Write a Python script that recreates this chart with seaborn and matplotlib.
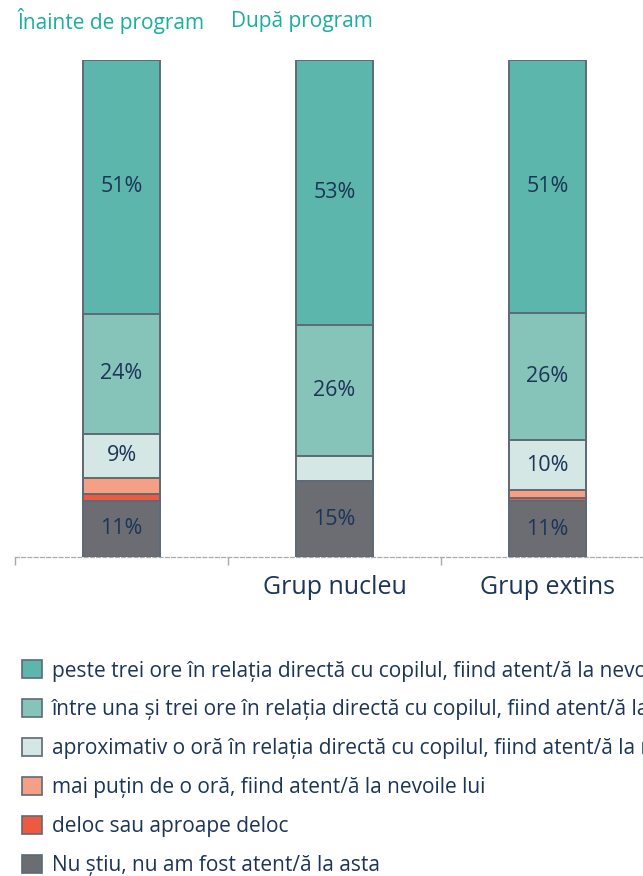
import matplotlib
matplotlib.use("Agg")
import matplotlib.pyplot as plt
import matplotlib.patches as mpatches
import numpy as np
import pandas as pd
import seaborn as sns

# Data: share of respondents per answer, bottom segment first
groups = ["Înainte de program", "Grup nucleu", "Grup extins"]
tick_labels = ["", "Grup nucleu", "Grup extins"]
answers = [
    "Nu știu, nu am fost atent/ă la asta",
    "deloc sau aproape deloc",
    "mai puțin de o oră, fiind atent/ă la nevoile lui",
    "aproximativ o oră în relația directă cu copilul, fiind atent/ă la nevoile lui",
    "între una și trei ore în relația directă cu copilul, fiind atent/ă la nevoile lui",
    "peste trei ore în relația directă cu copilul, fiind atent/ă la nevoile lui",
]
nu_stiu = [11.3, 15.2, 11.2]
deloc = [1.4, 0.0, 0.6]
sub_o_ora = [3.2, 0.0, 1.6]
o_ora = [8.9, 5.2, 10.1]
una_trei = [24.1, 26.3, 25.6]
peste_trei = [51.1, 53.3, 50.9]
colors = ["#6b6d72", "#ee5a40", "#f5a084", "#d4e7e4", "#86c4ba", "#5cb6ab"]
headers = ["Înainte de program", "După program"]

series = [nu_stiu, deloc, sub_o_ora, o_ora, una_trei, peste_trei]

sns.set_theme(style="white")
plt.rcParams["font.family"] = ["Open Sans", "DejaVu Sans"]

navy = "#1c3557"
teal = "#1aae9f"
edge = "#5e6a77"

fig = plt.figure(figsize=(6.43, 8.76), dpi=100)
left = 15 / 643
bottom = (876 - 557) / 876
top = (876 - 60) / 876
ax = fig.add_axes([left, bottom, (654 - 15) / 643, top - bottom])

vals = np.array(series)
cum = np.cumsum(vals, axis=0)

# Overlapping cumulative bars, tallest first, form the stacks
for i in range(len(series) - 1, -1, -1):
    df = pd.DataFrame({"grup": groups, "val": cum[i]})
    sns.barplot(data=df, x="grup", y="val", order=groups, color=colors[i],
                saturation=1, width=0.366, edgecolor=edge, linewidth=1.4,
                ax=ax, zorder=2)

# Segment labels
for j in range(len(groups)):
    base = 0.0
    for i in range(len(series)):
        v = vals[i, j]
        if v >= 6:
            ax.text(j, base + v / 2, f"{round(v):.0f}%", ha="center", va="center",
                    fontsize=15.5, color=navy, zorder=5)
        base += v

ax.set_xlim(-0.5, 2.5)
ax.set_ylim(0, 100)
ax.set_xlabel("")
ax.set_ylabel("")
ax.set_yticks([])
for s in ["top", "right", "left"]:
    ax.spines[s].set_visible(False)
ax.spines["bottom"].set_linestyle((0, (3, 2)))
ax.spines["bottom"].set_color("#aaaaaa")
ax.spines["bottom"].set_linewidth(0.9)
ax.spines["bottom"].set_zorder(1)

ax.set_xticks([-0.5, 0.5, 1.5, 2.5])
ax.set_xticklabels([])
ax.tick_params(axis="x", which="major", direction="out", length=6, width=1,
               color="#aaaaaa", bottom=True)
ax.set_xticks(range(len(groups)), minor=True)
ax.set_xticklabels(tick_labels, minor=True)
ax.tick_params(axis="x", which="minor", length=0, pad=13, labelsize=18,
               labelcolor=navy)

# Headers above the bars
fig.text(18 / 643, 1 - 21 / 876, headers[0], fontsize=15, color=teal,
         ha="left", va="center")
fig.text(231 / 643, 1 - 21 / 876, headers[1], fontsize=15, color=teal,
         ha="left", va="center")

# Legend, top answer first
handles = [mpatches.Patch(facecolor=colors[i], edgecolor=edge, linewidth=1.2,
                          label=answers[i]) for i in range(len(series) - 1, -1, -1)]
leg = fig.legend(handles=handles, loc="upper left",
                 bbox_to_anchor=(14 / 643, 1 - 652 / 876), frameon=False,
                 fontsize=15, handlelength=0.96, handleheight=0.96,
                 handletextpad=0.45, labelspacing=0.85, borderaxespad=0)
for t in leg.get_texts():
    t.set_color(navy)

fig.savefig("out.png", dpi=100)
